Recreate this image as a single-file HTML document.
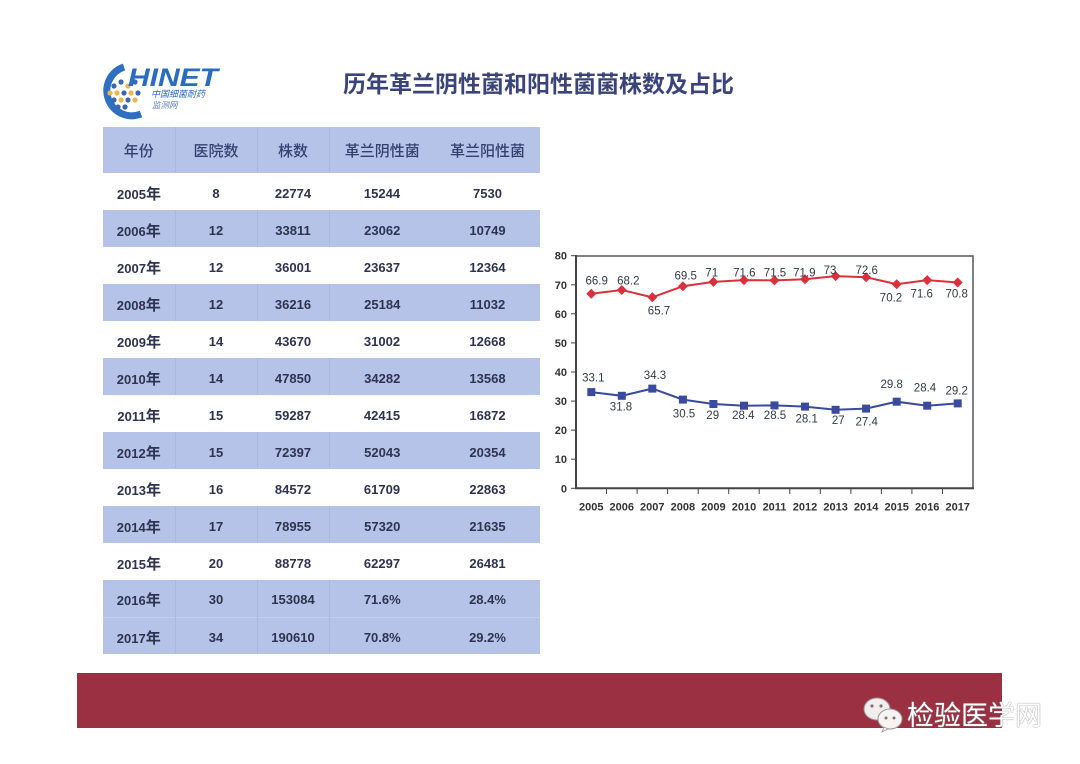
<!DOCTYPE html>
<html><head><meta charset="utf-8">
<style>
html,body{margin:0;padding:0;background:#fff;}
body{width:1080px;height:764px;position:relative;overflow:hidden;font-family:"Liberation Sans","Noto Sans CJK SC",sans-serif;}
.title{position:absolute;left:343px;top:69px;font-size:23px;font-weight:bold;color:#3a4478;letter-spacing:0px;white-space:nowrap;line-height:30px;font-family:"Liberation Sans","Noto Sans CJK SC",sans-serif;}
table{position:absolute;left:103px;top:127px;border-collapse:collapse;width:437px;table-layout:fixed;}
td,th{text-align:center;padding:0;color:#2e3350;}
th{height:46px;background:#b4c3e7;font-size:15px;font-weight:500;color:#353f70;}
td{height:37px;font-size:13px;font-weight:bold;padding-top:3px;box-sizing:border-box;}
tr.b td{background:#b4c3e7;}
tr.b td+td{border-left:1px solid #a9b8dd;}
th+th{border-left:1px solid #a9b8dd;}
th:last-child, tr.b td:last-child{border-left:none;}
tr.b + tr.b td{border-top:1px solid #c4d0ee;}
.y{font-size:15px;}
.bar{position:absolute;left:77px;top:673px;width:925px;height:55px;background:#9a3042;}
.wm{position:absolute;left:907px;top:700px;font-size:27px;color:#fff;line-height:32px;white-space:nowrap;text-shadow:0 0 1px #888,0 0 1px #888;font-family:"Liberation Sans","Noto Sans CJK SC",sans-serif;}
</style></head><body>

<svg style="position:absolute;left:0;top:0" width="1080" height="764">
  <!-- logo -->
  <path d="M124 67 A25 25 0 1 0 141 114" fill="none" stroke="#2e6fc0" stroke-width="7"/>
  <g>
    <circle cx="114" cy="86" r="2.6" fill="#3d66b0"/>
    <circle cx="121" cy="82" r="2.6" fill="#3d66b0"/>
    <circle cx="128" cy="86" r="2.6" fill="#e8b84a"/>
    <circle cx="135" cy="82" r="2.6" fill="#3d66b0"/>
    <circle cx="110" cy="93" r="2.6" fill="#e8b84a"/>
    <circle cx="117" cy="93" r="2.6" fill="#e8b84a"/>
    <circle cx="124" cy="93" r="2.6" fill="#3d66b0"/>
    <circle cx="131" cy="93" r="2.6" fill="#e8b84a"/>
    <circle cx="138" cy="93" r="2.6" fill="#3d66b0"/>
    <circle cx="114" cy="100" r="2.6" fill="#3d66b0"/>
    <circle cx="121" cy="100" r="2.6" fill="#e8b84a"/>
    <circle cx="128" cy="100" r="2.6" fill="#3d66b0"/>
    <circle cx="135" cy="100" r="2.6" fill="#e8b84a"/>
    <circle cx="118" cy="107" r="2.6" fill="#3d66b0"/>
    <circle cx="125" cy="107" r="2.6" fill="#3d66b0"/>
  </g>
  <text x="128" y="86" font-family="Liberation Sans,sans-serif" font-size="25" font-weight="bold" font-style="italic" fill="#2a6cc0" textLength="90" lengthAdjust="spacingAndGlyphs">HINET</text>
  <text x="151" y="97" font-family="Liberation Sans,Noto Sans CJK SC,sans-serif" font-size="9" font-style="italic" fill="#2a6cc0">中国细菌耐药</text>
  <text x="152" y="108" font-family="Liberation Sans,Noto Sans CJK SC,sans-serif" font-size="8.5" font-style="italic" fill="#5a7fb0">监测网</text>
</svg>

<div class="title">历年革兰阴性菌和阳性菌菌株数及占比</div>

<table>
<colgroup><col style="width:72px"><col style="width:82px"><col style="width:72px"><col style="width:106px"><col style="width:105px"></colgroup>
<tr><th>年份</th><th>医院数</th><th>株数</th><th>革兰阴性菌</th><th>革兰阳性菌</th></tr>
<tr><td>2005<span class="y">年</span></td><td>8</td><td>22774</td><td>15244</td><td>7530</td></tr>
<tr class="b"><td>2006<span class="y">年</span></td><td>12</td><td>33811</td><td>23062</td><td>10749</td></tr>
<tr><td>2007<span class="y">年</span></td><td>12</td><td>36001</td><td>23637</td><td>12364</td></tr>
<tr class="b"><td>2008<span class="y">年</span></td><td>12</td><td>36216</td><td>25184</td><td>11032</td></tr>
<tr><td>2009<span class="y">年</span></td><td>14</td><td>43670</td><td>31002</td><td>12668</td></tr>
<tr class="b"><td>2010<span class="y">年</span></td><td>14</td><td>47850</td><td>34282</td><td>13568</td></tr>
<tr><td>2011<span class="y">年</span></td><td>15</td><td>59287</td><td>42415</td><td>16872</td></tr>
<tr class="b"><td>2012<span class="y">年</span></td><td>15</td><td>72397</td><td>52043</td><td>20354</td></tr>
<tr><td>2013<span class="y">年</span></td><td>16</td><td>84572</td><td>61709</td><td>22863</td></tr>
<tr class="b"><td>2014<span class="y">年</span></td><td>17</td><td>78955</td><td>57320</td><td>21635</td></tr>
<tr><td>2015<span class="y">年</span></td><td>20</td><td>88778</td><td>62297</td><td>26481</td></tr>
<tr class="b"><td>2016<span class="y">年</span></td><td>30</td><td>153084</td><td>71.6%</td><td>28.4%</td></tr>
<tr class="b"><td>2017<span class="y">年</span></td><td>34</td><td>190610</td><td>70.8%</td><td>29.2%</td></tr>
</table>

<svg style="position:absolute;left:0;top:0" width="1080" height="764" font-family="Liberation Sans,sans-serif">
  <!-- plot frame -->
  <rect x="576" y="256" width="397" height="232.3" fill="none" stroke="#555" stroke-width="1.5"/>
  <line x1="576" y1="255" x2="576" y2="489" stroke="#444" stroke-width="2"/>
  <line x1="575" y1="488.3" x2="974" y2="488.3" stroke="#444" stroke-width="2"/>
  <!-- y ticks -->
  <g stroke="#444" stroke-width="1">
    <line x1="571" y1="488.3" x2="576" y2="488.3"/>
    <line x1="571" y1="459.2" x2="576" y2="459.2"/>
    <line x1="571" y1="430.1" x2="576" y2="430.1"/>
    <line x1="571" y1="401.1" x2="576" y2="401.1"/>
    <line x1="571" y1="372.0" x2="576" y2="372.0"/>
    <line x1="571" y1="342.9" x2="576" y2="342.9"/>
    <line x1="571" y1="313.8" x2="576" y2="313.8"/>
    <line x1="571" y1="284.8" x2="576" y2="284.8"/>
    <line x1="571" y1="255.7" x2="576" y2="255.7"/>
  </g>
  <!-- x ticks -->
  <g stroke="#444" stroke-width="1">
    <line x1="606.5" y1="488" x2="606.5" y2="494"/>
    <line x1="637.1" y1="488" x2="637.1" y2="494"/>
    <line x1="667.6" y1="488" x2="667.6" y2="494"/>
    <line x1="698.2" y1="488" x2="698.2" y2="494"/>
    <line x1="728.7" y1="488" x2="728.7" y2="494"/>
    <line x1="759.2" y1="488" x2="759.2" y2="494"/>
    <line x1="789.8" y1="488" x2="789.8" y2="494"/>
    <line x1="820.3" y1="488" x2="820.3" y2="494"/>
    <line x1="850.9" y1="488" x2="850.9" y2="494"/>
    <line x1="881.4" y1="488" x2="881.4" y2="494"/>
    <line x1="911.9" y1="488" x2="911.9" y2="494"/>
    <line x1="942.5" y1="488" x2="942.5" y2="494"/>
  </g>
  <!-- y labels -->
  <g font-size="11" font-weight="bold" fill="#333" text-anchor="end">
    <text x="567" y="492.3">0</text>
    <text x="567" y="463.2">10</text>
    <text x="567" y="434.1">20</text>
    <text x="567" y="405.1">30</text>
    <text x="567" y="376.0">40</text>
    <text x="567" y="346.9">50</text>
    <text x="567" y="317.8">60</text>
    <text x="567" y="288.8">70</text>
    <text x="567" y="259.7">80</text>
  </g>
  <!-- x labels -->
  <g font-size="11" font-weight="bold" fill="#333" text-anchor="middle">
    <text x="591.3" y="510.7">2005</text>
    <text x="621.8" y="510.7">2006</text>
    <text x="652.3" y="510.7">2007</text>
    <text x="682.9" y="510.7">2008</text>
    <text x="713.4" y="510.7">2009</text>
    <text x="744.0" y="510.7">2010</text>
    <text x="774.5" y="510.7">2011</text>
    <text x="805.0" y="510.7">2012</text>
    <text x="835.6" y="510.7">2013</text>
    <text x="866.1" y="510.7">2014</text>
    <text x="896.7" y="510.7">2015</text>
    <text x="927.2" y="510.7">2016</text>
    <text x="957.7" y="510.7">2017</text>
  </g>
  <!-- red series -->
  <polyline fill="none" stroke="#d9303c" stroke-width="2" points="591.3,293.8 621.8,290.0 652.3,297.3 682.9,286.2 713.4,281.9 744.0,280.1 774.5,280.4 805.0,279.3 835.6,276.1 866.1,277.2 896.7,284.2 927.2,280.1 957.7,282.5"/>
  <g fill="#d9303c">
    <path d="M591.3 288.8 l5 5 l-5 5 l-5 -5z"/>
    <path d="M621.8 285.0 l5 5 l-5 5 l-5 -5z"/>
    <path d="M652.3 292.3 l5 5 l-5 5 l-5 -5z"/>
    <path d="M682.9 281.2 l5 5 l-5 5 l-5 -5z"/>
    <path d="M713.4 276.9 l5 5 l-5 5 l-5 -5z"/>
    <path d="M744.0 275.1 l5 5 l-5 5 l-5 -5z"/>
    <path d="M774.5 275.4 l5 5 l-5 5 l-5 -5z"/>
    <path d="M805.0 274.3 l5 5 l-5 5 l-5 -5z"/>
    <path d="M835.6 271.1 l5 5 l-5 5 l-5 -5z"/>
    <path d="M866.1 272.2 l5 5 l-5 5 l-5 -5z"/>
    <path d="M896.7 279.2 l5 5 l-5 5 l-5 -5z"/>
    <path d="M927.2 275.1 l5 5 l-5 5 l-5 -5z"/>
    <path d="M957.7 277.5 l5 5 l-5 5 l-5 -5z"/>
  </g>
  <!-- blue series -->
  <polyline fill="none" stroke="#3a4a9c" stroke-width="2" points="591.3,392.1 621.8,395.8 652.3,388.6 682.9,399.6 713.4,404.0 744.0,405.7 774.5,405.4 805.0,406.6 835.6,409.8 866.1,408.6 896.7,401.7 927.2,405.7 957.7,403.4"/>
  <g fill="#3a4a9c">
    <rect x="587.3" y="388.1" width="8" height="8"/>
    <rect x="617.8" y="391.8" width="8" height="8"/>
    <rect x="648.3" y="384.6" width="8" height="8"/>
    <rect x="678.9" y="395.6" width="8" height="8"/>
    <rect x="709.4" y="400.0" width="8" height="8"/>
    <rect x="740.0" y="401.7" width="8" height="8"/>
    <rect x="770.5" y="401.4" width="8" height="8"/>
    <rect x="801.0" y="402.6" width="8" height="8"/>
    <rect x="831.6" y="405.8" width="8" height="8"/>
    <rect x="862.1" y="404.6" width="8" height="8"/>
    <rect x="892.7" y="397.7" width="8" height="8"/>
    <rect x="923.2" y="401.7" width="8" height="8"/>
    <rect x="953.7" y="399.4" width="8" height="8"/>
  </g>
  <!-- data labels -->
  <g font-size="11.5" fill="#333a48" text-anchor="middle">
    <text x="596.7" y="284.7">66.9</text>
    <text x="628.3" y="284.7">68.2</text>
    <text x="659" y="314.7">65.7</text>
    <text x="685.7" y="279.7">69.5</text>
    <text x="711.7" y="276.7">71</text>
    <text x="744.3" y="276.7">71.6</text>
    <text x="775" y="276.7">71.5</text>
    <text x="804.3" y="276.7">71.9</text>
    <text x="830" y="274">73</text>
    <text x="866.7" y="274">72.6</text>
    <text x="891" y="301.3">70.2</text>
    <text x="921.7" y="297.3">71.6</text>
    <text x="956.7" y="297.3">70.8</text>

    <text x="593.3" y="381.3">33.1</text>
    <text x="621" y="410.7">31.8</text>
    <text x="655" y="379">34.3</text>
    <text x="684" y="417.3">30.5</text>
    <text x="712.7" y="419">29</text>
    <text x="743.3" y="419">28.4</text>
    <text x="775" y="419">28.5</text>
    <text x="806.7" y="422.3">28.1</text>
    <text x="838.3" y="424">27</text>
    <text x="866.7" y="425.7">27.4</text>
    <text x="891.7" y="388">29.8</text>
    <text x="925" y="391.3">28.4</text>
    <text x="956.7" y="394.7">29.2</text>
  </g>
</svg>

<div class="bar"></div>

<svg style="position:absolute;left:862px;top:694px" width="46" height="40">
  <ellipse cx="15" cy="15" rx="13" ry="11" fill="#f4eded" stroke="#999" stroke-width="1"/>
  <circle cx="10" cy="12" r="1.6" fill="#777"/>
  <circle cx="19" cy="12" r="1.6" fill="#777"/>
  <ellipse cx="28" cy="25" rx="12" ry="10" fill="#f8f2f2" stroke="#999" stroke-width="1"/>
  <path d="M22 33 l-2 5 l6 -3z" fill="#f8f2f2" stroke="#999" stroke-width="0.8"/>
  <circle cx="24" cy="24" r="1.5" fill="#777"/>
  <circle cx="32" cy="24" r="1.5" fill="#777"/>
</svg>
<div class="wm">检验医学网</div>

</body></html>
